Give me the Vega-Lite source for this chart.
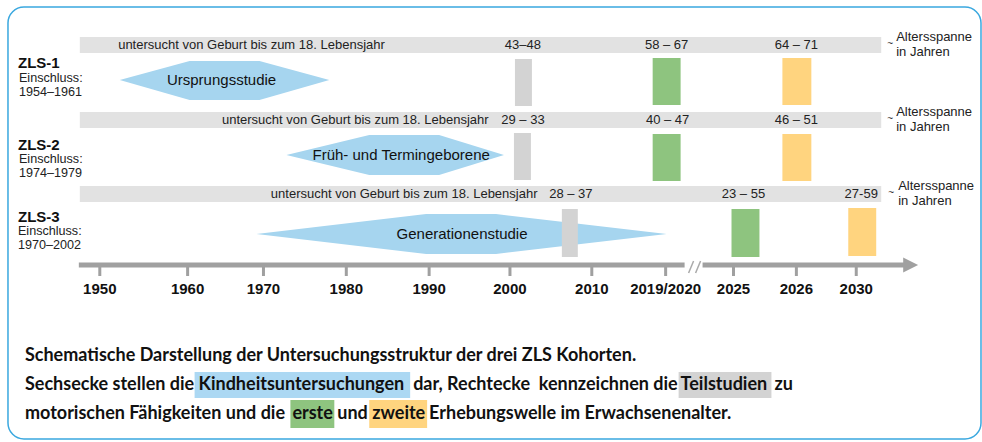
{
  "$schema": "https://vega.github.io/schema/vega-lite/v6.json",
  "width": 982,
  "height": 442,
  "autosize": {"type": "fit", "contains": "padding"},
  "padding": 0,
  "background": "white",
  "config": {"view": {"stroke": null}, "text": {"font": "Liberation Sans"}},
  "encoding": {
    "x": {"field": "x", "type": "quantitative", "scale": {"domain": [0, 982], "nice": false, "zero": false}, "axis": null},
    "y": {"field": "y", "type": "quantitative", "scale": {"domain": [0, 442], "nice": false, "zero": false, "reverse": true}, "axis": null}
  },
  "layer": [
    {
      "data": {"values": [{"x": 8, "y": 7, "x2": 983, "y2": 439}]},
      "mark": {"type": "rect", "cornerRadius": 16, "fillOpacity": 0, "stroke": "#3aa8df", "strokeWidth": 1.5},
      "encoding": {"x2": {"field": "x2"}, "y2": {"field": "y2"}}
    },
    {
      "data": {"values": [
        {"x": 80, "x2": 883, "y": 37, "y2": 53},
        {"x": 80, "x2": 883, "y": 112, "y2": 128},
        {"x": 80, "x2": 883, "y": 186, "y2": 202}
      ]},
      "mark": {"type": "rect", "color": "#e2e2e2"},
      "encoding": {"x2": {"field": "x2"}, "y2": {"field": "y2"}}
    },
    {
      "data": {"values": [
        {"id": "Ursprungsstudie", "x": 120, "y": 80, "y2": 80},
        {"id": "Ursprungsstudie", "x": 190, "y": 61, "y2": 100},
        {"id": "Ursprungsstudie", "x": 260, "y": 61, "y2": 100},
        {"id": "Ursprungsstudie", "x": 330, "y": 80, "y2": 80},
        {"id": "Früh", "x": 287, "y": 155, "y2": 155},
        {"id": "Früh", "x": 370, "y": 135, "y2": 175},
        {"id": "Früh", "x": 440, "y": 135, "y2": 175},
        {"id": "Früh", "x": 505, "y": 155, "y2": 155},
        {"id": "Generationenstudie", "x": 257, "y": 234, "y2": 234},
        {"id": "Generationenstudie", "x": 427, "y": 214, "y2": 254},
        {"id": "Generationenstudie", "x": 497, "y": 214, "y2": 254},
        {"id": "Generationenstudie", "x": 668, "y": 234, "y2": 234}
      ]},
      "mark": {"type": "area", "color": "#a6d5ef", "interpolate": "linear", "opacity": 1},
      "encoding": {"y2": {"field": "y2"}, "detail": {"field": "id"}}
    },
    {
      "data": {"values": [
        {"k": "Teilstudien", "x": 516, "x2": 533, "y": 59, "y2": 106},
        {"k": "Teilstudien", "x": 515, "x2": 532, "y": 133, "y2": 180},
        {"k": "Teilstudien", "x": 563, "x2": 579, "y": 209, "y2": 257},
        {"k": "erste", "x": 654, "x2": 682, "y": 58, "y2": 105},
        {"k": "erste", "x": 654, "x2": 682, "y": 134, "y2": 181},
        {"k": "erste", "x": 733, "x2": 761, "y": 209, "y2": 257},
        {"k": "zweite", "x": 784, "x2": 813, "y": 58, "y2": 105},
        {"k": "zweite", "x": 784, "x2": 813, "y": 134, "y2": 181},
        {"k": "zweite", "x": 850, "x2": 878, "y": 208, "y2": 256},
        {"k": "Kindheitsuntersuchungen", "x": 195, "x2": 411, "y": 372, "y2": 398},
        {"k": "Teilstudien", "x": 680, "x2": 773, "y": 372, "y2": 398},
        {"k": "erste", "x": 291, "x2": 335, "y": 400, "y2": 428},
        {"k": "zweite", "x": 370, "x2": 428, "y": 400, "y2": 428}
      ]},
      "mark": {"type": "rect", "opacity": 1},
      "encoding": {
        "x2": {"field": "x2"}, "y2": {"field": "y2"},
        "color": {"field": "k", "type": "nominal", "legend": null,
          "scale": {"domain": ["Kindheitsuntersuchungen", "Teilstudien", "erste", "zweite"], "range": ["#acd8f3", "#d3d3d3", "#8ec47f", "#ffd47f"]}}
      }
    },
    {
      "data": {"values": [
        {"x": 79, "x2": 686, "y": 265},
        {"x": 704, "x2": 907, "y": 265}
      ]},
      "mark": {"type": "rule", "color": "#a0a0a0", "strokeWidth": 5},
      "encoding": {"x2": {"field": "x2"}}
    },
    {
      "data": {"values": [
        {"x": 905, "y": 257.5, "y2": 272.5},
        {"x": 920, "y": 265, "y2": 265}
      ]},
      "mark": {"type": "area", "color": "#a0a0a0", "interpolate": "linear", "opacity": 1},
      "encoding": {"y2": {"field": "y2"}}
    },
    {
      "data": {"values": [
        {"x": 690, "y": 273, "x2": 695, "y2": 261},
        {"x": 697, "y": 273, "x2": 702, "y2": 261}
      ]},
      "mark": {"type": "rule", "color": "#aaaaaa", "strokeWidth": 1.5},
      "encoding": {"x2": {"field": "x2"}, "y2": {"field": "y2"}}
    },
    {
      "data": {"name": "ticks", "values": [
        {"x": 100, "y": 265, "y2": 276, "t": "1950"},
        {"x": 188, "y": 265, "y2": 276, "t": "1960"},
        {"x": 264, "y": 265, "y2": 276, "t": "1970"},
        {"x": 347, "y": 265, "y2": 276, "t": "1980"},
        {"x": 430, "y": 265, "y2": 276, "t": "1990"},
        {"x": 511, "y": 265, "y2": 276, "t": "2000"},
        {"x": 593, "y": 265, "y2": 276, "t": "2010"},
        {"x": 667, "y": 265, "y2": 276, "t": "2019/2020"},
        {"x": 735, "y": 265, "y2": 276, "t": "2025"},
        {"x": 798, "y": 265, "y2": 276, "t": "2026"},
        {"x": 858, "y": 265, "y2": 276, "t": "2030"}
      ]},
      "layer": [
        {
          "mark": {"type": "rule", "color": "#a0a0a0", "strokeWidth": 3},
          "encoding": {"y2": {"field": "y2"}}
        },
        {
          "mark": {"type": "text", "fontSize": 15, "fontWeight": "bold", "align": "center", "baseline": "middle", "color": "#111111", "dy": 24},
          "encoding": {"text": {"field": "t"}}
        }
      ]
    },
    {
      "data": {"values": [
        {"x": 252, "y": 45, "t": "untersucht von Geburt bis zum 18. Lebensjahr"},
        {"x": 356, "y": 120, "t": "untersucht von Geburt bis zum 18. Lebensjahr"},
        {"x": 405, "y": 194, "t": "untersucht von Geburt bis zum 18. Lebensjahr"},
        {"x": 524, "y": 45, "t": "43–48"},
        {"x": 668, "y": 45, "t": "58 – 67"},
        {"x": 798, "y": 45, "t": "64 – 71"},
        {"x": 524, "y": 120, "t": "29 – 33"},
        {"x": 669, "y": 120, "t": "40 – 47"},
        {"x": 798, "y": 120, "t": "46 – 51"},
        {"x": 572, "y": 194, "t": "28 – 37"},
        {"x": 745, "y": 194, "t": "23 – 55"},
        {"x": 863, "y": 194, "t": "27-59"}
      ]},
      "mark": {"type": "text", "fontSize": 13, "align": "center", "baseline": "middle", "color": "#222222"},
      "encoding": {"text": {"field": "t"}}
    },
    {
      "data": {"values": [
        {"x": 898, "y": 37, "t": "Altersspanne"},
        {"x": 898, "y": 52, "t": "in Jahren"},
        {"x": 898, "y": 112, "t": "Altersspanne"},
        {"x": 898, "y": 127, "t": "in Jahren"},
        {"x": 900, "y": 186, "t": "Altersspanne"},
        {"x": 900, "y": 201, "t": "in Jahren"}
      ]},
      "mark": {"type": "text", "fontSize": 13, "align": "left", "baseline": "middle", "color": "#222222"},
      "encoding": {"text": {"field": "t"}}
    },
    {
      "data": {"values": [
        {"x": 892, "y": 44, "t": "~"},
        {"x": 892, "y": 119, "t": "~"},
        {"x": 893, "y": 193, "t": "~"}
      ]},
      "mark": {"type": "text", "fontSize": 10, "align": "center", "baseline": "middle", "color": "#333333"},
      "encoding": {"text": {"field": "t"}}
    },
    {
      "data": {"values": [
        {"x": 18, "y": 63, "t": "ZLS-1"},
        {"x": 18, "y": 145, "t": "ZLS-2"},
        {"x": 18, "y": 217, "t": "ZLS-3"}
      ]},
      "mark": {"type": "text", "fontSize": 15, "fontWeight": "bold", "align": "left", "baseline": "middle", "color": "#111111"},
      "encoding": {"text": {"field": "t"}}
    },
    {
      "data": {"values": [
        {"x": 19, "y": 78, "t": "Einschluss:"},
        {"x": 19, "y": 92, "t": "1954–1961"},
        {"x": 19, "y": 159, "t": "Einschluss:"},
        {"x": 19, "y": 173, "t": "1974–1979"},
        {"x": 18, "y": 231, "t": "Einschluss:"},
        {"x": 18, "y": 245, "t": "1970–2002"}
      ]},
      "mark": {"type": "text", "fontSize": 12.6, "align": "left", "baseline": "middle", "color": "#222222"},
      "encoding": {"text": {"field": "t"}}
    },
    {
      "data": {"values": [
        {"x": 222, "y": 80, "t": "Ursprungsstudie"},
        {"x": 402, "y": 155, "t": "Früh- und Termingeborene"},
        {"x": 463, "y": 234, "t": "Generationenstudie"}
      ]},
      "mark": {"type": "text", "fontSize": 15, "align": "center", "baseline": "middle", "color": "#111111"},
      "encoding": {"text": {"field": "t"}}
    },
    {
      "data": {"values": [
        {"x": 25, "y": 361, "t": "Schematische Darstellung der Untersuchungsstruktur der drei ZLS Kohorten."},
        {"x": 25, "y": 390, "t": "Sechsecke stellen die"},
        {"x": 199, "y": 390, "t": "Kindheitsuntersuchungen"},
        {"x": 414, "y": 390, "t": "dar, Rechtecke\u00a0 kennzeichnen die"},
        {"x": 682, "y": 390, "t": "Teilstudien"},
        {"x": 776, "y": 390, "t": "zu"},
        {"x": 25, "y": 419, "t": "motorischen Fähigkeiten und die"},
        {"x": 293, "y": 419, "t": "erste"},
        {"x": 338, "y": 419, "t": "und"},
        {"x": 373, "y": 419, "t": "zweite"},
        {"x": 430, "y": 419, "t": "Erhebungswelle im Erwachsenenalter."}
      ]},
      "mark": {"type": "text", "font": "Lato", "fontSize": 18, "fontWeight": "bold", "align": "left", "baseline": "alphabetic", "color": "#111111"},
      "encoding": {"text": {"field": "t"}}
    }
  ]
}
